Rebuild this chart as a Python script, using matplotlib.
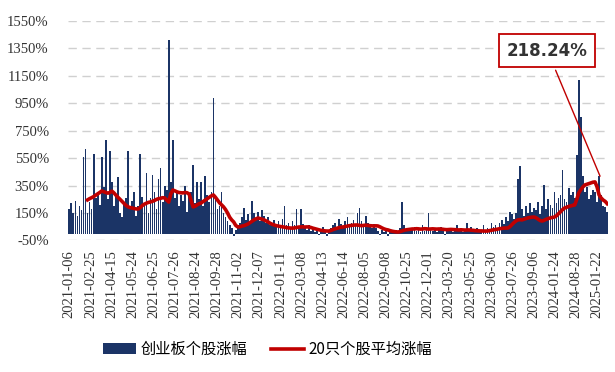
import numpy as np
import matplotlib.pyplot as plt

plt.rcParams['font.family'] = ['Liberation Serif', 'Noto Sans CJK SC']

# tick labels shown on the x axis
tick_labels = ["2021-01-06", "2021-02-25", "2021-04-15", "2021-05-24", "2021-06-25",
               "2021-07-26", "2021-08-24", "2021-09-28", "2021-11-02", "2021-12-07",
               "2022-01-11", "2022-03-08", "2022-04-13", "2022-06-14", "2022-08-05",
               "2022-09-08", "2022-10-25", "2022-12-01", "2023-03-20", "2023-05-25",
               "2023-06-30", "2023-07-26", "2023-09-06", "2024-01-24", "2024-08-28",
               "2025-01-22"]

# 创业板个股涨幅 (%), one value per bar
gains = [
    180, 220, 150, 240, 130, 200, 170, 560, 620, 150,
    230, 180, 580, 260, 300, 210, 560, 340, 680, 250,
    600, 380, 200, 280, 410, 150, 120, 220, 260, 600,
    180, 240, 300, 130, 200, 580, 270, 220, 440, 150,
    260, 430, 300, 180, 400, 480, 230, 350, 320, 1410,
    380, 680, 260, 300, 200, 280, 240, 350, 160, 280,
    300, 500, 220, 380, 250, 380, 200, 420, 280, 230,
    300, 990, 250, 180, 200, 300, 150, 120, 90, 60,
    40, -20, 30, 60, 80, 120, 190, 100, 140, 80,
    240, 150, 110, 160, 90, 170, 130, 80, 120, 60,
    70, 100, 50, 90, 40, 110, 200, 60, 80, 50,
    90, 60, 180, 40, 180, 70, 50, 30, 60, 20,
    40, 10, 30, -10, 20, 50, 30, -20, 10, 40,
    60, 80, 40, 110, 70, 50, 90, 120, 60, 80,
    100, 70, 150, 185, 90, 60, 130, 80, 50, 40,
    70, 40, 20, -10, 30, 10, 20, -20, 10, 20,
    10, 30, 20, 40, 230, 60, 30, 20, 40, 30,
    50, 20, 30, 10, 60, 20, 40, 150, 30, 20,
    40, 10, 30, 50, 20, -10, 30, 20, 40, 10,
    30, 60, 20, 40, 10, 30, 80, 20, 50, 30,
    20, 40, 10, 30, 60, 20, 40, 30, 80, 50,
    60, 40, 80, 100, 70, 120, 90, 160, 140, 110,
    150, 400, 490, 180, 130, 200, 150, 220, 160, 190,
    170, 230, 140, 200, 355, 180, 250, 210, 190, 300,
    220, 260, 280, 465, 250, 230, 335, 280, 300, 260,
    575, 1120, 850, 420, 300, 340, 250, 280, 320, 300,
    230, 420, 280, 200, 195, 160,
]

# 20只个股平均涨幅 (%), starts after the first 9 bars
avg = [
    246, 255, 262, 270, 280, 290, 300, 311, 305, 300, 295,
    300, 310, 297, 280, 265, 250, 235, 220, 205, 195,
    190, 187, 183, 180, 180, 190, 205, 215, 222, 228,
    231, 236, 242, 250, 255, 258, 262, 260, 245, 230,
    290, 318, 312, 305, 300, 298, 297, 300, 298, 290,
    240, 195, 200, 210, 218, 224, 235, 245, 255, 265,
    275, 282, 265, 245, 225, 210, 195, 175, 150, 120,
    100, 85, 60, 49, 50, 55, 58, 64, 70, 80,
    90, 100, 108, 114, 110, 105, 100, 92, 85, 75,
    68, 63, 58, 55, 52, 50, 47, 44, 42, 41,
    40, 42, 45, 48, 49, 50, 48, 49, 49, 45,
    40, 36, 32, 28, 24, 22, 20, 19, 19, 24,
    30, 35, 40, 44, 47, 49, 52, 55, 58, 60,
    62, 63, 63, 60, 58, 60, 62, 60, 58, 57,
    56, 57, 56, 50, 42, 35, 30, 27, 22, 18,
    15, 13, 12, 15, 20, 25, 28, 30, 32, 34,
    34, 36, 35, 33, 34, 36, 35, 33, 34, 35,
    34, 33, 34, 34, 32, 30, 29, 30, 31, 30,
    29, 28, 27, 28, 27, 26, 27, 27, 25, 24,
    22, 21, 20, 20, 19, 19, 19, 22, 25, 28,
    30, 33, 36, 38, 40, 41, 41, 50, 65, 80,
    92, 100, 102, 100, 105, 110, 115, 118, 120, 121,
    115, 105, 95, 92, 98, 105, 110, 115, 118, 121,
    130, 145, 160, 175, 187, 192, 198, 202, 206, 209,
    250, 297, 320, 340, 355, 360, 365, 370, 375, 377,
    340, 282, 260, 245, 235, 218.24,
]

navy = "#1b3466"
red = "#c00000"

x = np.arange(len(gains))
x_avg = x[len(gains) - len(avg):]

fig = plt.figure(figsize=(6.15, 3.72), dpi=100)
ax = fig.add_axes([0.111, 0.3535, 0.878, 0.590])

bars = ax.bar(x, gains, width=0.85, color=navy, linewidth=0, zorder=2)
line, = ax.plot(x_avg, avg, color=red, lw=2.6, zorder=3)

ax.set_xlim(-0.5, len(gains) - 0.5)
ax.set_ylim(-50, 1550)
ax.set_yticks(np.arange(-50, 1551, 200))
ax.set_yticklabels([f"{v}%" for v in range(-50, 1551, 200)], fontsize=10.5, color="#333333")
ax.set_xticks(np.linspace(0, 260, len(tick_labels)))
ax.set_xticklabels(tick_labels, rotation=90, fontsize=10.5, color="#333333")
ax.tick_params(axis="y", length=0, pad=14)
ax.tick_params(axis="x", length=0, pad=7)
ax.grid(axis="y", color="#d0d0d0", linestyle=(0, (6, 4)), lw=1, zorder=0)
for s in ax.spines.values():
    s.set_visible(False)

# value box for the last point of the average line
ax.annotate(f"{avg[-1]:.2f}%", xy=(262, 400), xytext=(235.5, 1335), textcoords="data",
            ha="center", va="center", fontsize=12, fontweight="bold", color="#333333",
            family=["DejaVu Sans"],
            bbox=dict(boxstyle="square,pad=0.45", fc="white", ec=red, lw=1.3),
            arrowprops=dict(arrowstyle="-", color=red, lw=1), zorder=5)

fig.legend([bars, line], ["创业板个股涨幅", "20只个股平均涨幅"],
           loc="center", bbox_to_anchor=(0.435, 0.06), ncol=2, frameon=False,
           prop={"family": ["Noto Sans CJK SC"], "size": 11}, handlelength=2.2,
           handletextpad=0.3, columnspacing=1.5)

fig.savefig("out.png", dpi=100)
